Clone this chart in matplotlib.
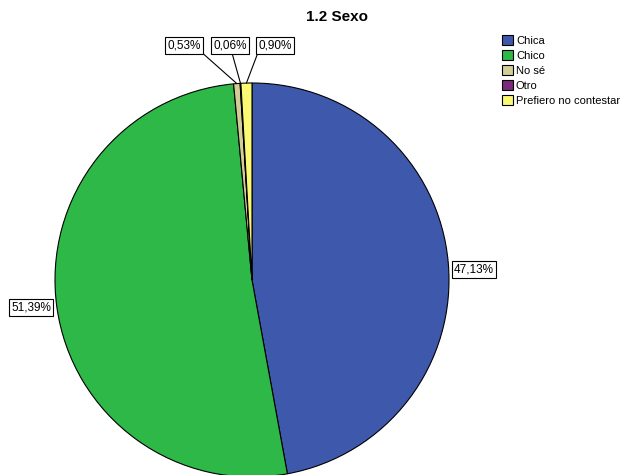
import numpy as np
import matplotlib.pyplot as plt
from matplotlib.patches import Patch

plt.rcParams['font.family'] = ['Liberation Sans', 'DejaVu Sans']

# data
categories = ['Chica', 'Chico', 'No sé', 'Otro', 'Prefiero no contestar']
values = [47.13, 51.39, 0.53, 0.06, 0.90]
labels = ['47,13%', '51,39%', '0,53%', '0,06%', '0,90%']
colors = ['#3E58AC', '#2EB848', '#D3CE97', '#7C287D', '#FBF873']

fig = plt.figure(figsize=(6.26, 4.75), dpi=100)
ax = fig.add_axes([55/626, -2/475, 394/626, 394/475])
wedges, _ = ax.pie(values, colors=colors, startangle=90, counterclock=False,
                   wedgeprops=dict(edgecolor='black', linewidth=0.8))
ax.set_xlim(-1, 1)
ax.set_ylim(-1, 1)
ax.set_aspect('equal')
ax.axis('off')

box = dict(boxstyle='square,pad=0.2', fc='white', ec='black', lw=0.8)

# big slices: label just outside the edge
for w, lab, ha, dy in zip(wedges[:2], labels[:2], ['left', 'right'], [-0.04, 0.0]):
    ang = np.deg2rad((w.theta1 + w.theta2) / 2)
    ax.text(1.03*np.cos(ang), 1.03*np.sin(ang) + dy, lab, ha=ha, va='center',
            fontsize=8.5, bbox=box, clip_on=False)

# small slices: boxes above with leader lines
text_x = [-0.345, -0.112, 0.117]
rel = [(1, 0), (0.55, 0), (0, 0)]
for w, lab, tx, rp in zip(wedges[2:], labels[2:], text_x, rel):
    ang = np.deg2rad((w.theta1 + w.theta2) / 2)
    ax.annotate(lab, xy=(np.cos(ang), np.sin(ang)), xytext=(tx, 1.19),
                ha='center', va='center', fontsize=8.5, bbox=box,
                arrowprops=dict(arrowstyle='-', lw=0.8, color='black',
                                shrinkA=0, shrinkB=0, relpos=rp),
                annotation_clip=False)

fig.text(337/626, 1 - 17/475, '1.2 Sexo', ha='center', va='center',
         fontsize=11, fontweight='bold')

handles = [Patch(facecolor=c, edgecolor='black', linewidth=0.8) for c in colors]
fig.legend(handles, categories, loc='upper left', bbox_to_anchor=(502/626, 1 - 35/475),
           frameon=False, fontsize=8, handlelength=0.95, handleheight=0.95,
           handletextpad=0.3, labelspacing=0.4, borderpad=0, borderaxespad=0)

fig.savefig('out.png', dpi=100)
